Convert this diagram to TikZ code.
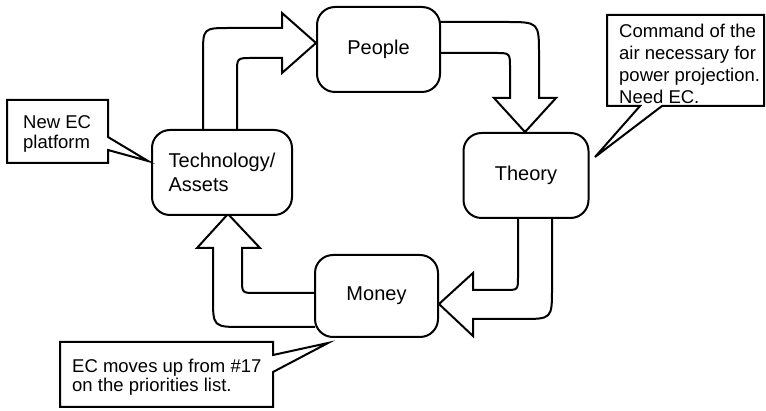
\documentclass[tikz,border=0pt]{standalone}
\usepackage{fontspec}
\setmainfont{Liberation Sans}
\begin{document}
\begin{tikzpicture}[x=1pt,y=-1pt,
  box/.style={draw,line width=2pt,fill=white,rounded corners=18pt,inner sep=0pt,
    font=\fontsize{20}{24}\selectfont,align=left},
  blockarrow/.style={draw,line width=2pt,fill=white,line join=miter},
  callout/.style={draw,line width=2pt,fill=white,line join=miter},
  calltext/.style={anchor=north west,inner sep=0pt,align=left}]
\useasboundingbox (0,0) rectangle (766,411);
% block arrows
\draw[blockarrow] (203,130) -- (203,55) .. controls (203,28) .. (230,28) -- (282,28) -- (282,13) -- (316,43) -- (282,73) -- (282,58) -- (252,58) .. controls (237,58) .. (237,73) -- (237,130);
\draw[blockarrow] (440,22) -- (505,22) .. controls (539,22) .. (539,55) -- (539,98) -- (556,98) -- (525,132) -- (494,98) -- (510,98) -- (510,68) .. controls (510,53) .. (495,53) -- (440,53);
\draw[blockarrow] (552,218) -- (552,288) .. controls (552,319) .. (521,319) -- (473,319) -- (473,336) -- (439,304) -- (473,273) -- (473,290) -- (505,290) .. controls (518,290) .. (518,277) -- (518,218);
\draw[blockarrow] (315,293) -- (256,293) .. controls (242,293) .. (242,279) -- (242,248) -- (260,248) -- (228,214) -- (197,248) -- (213,248) -- (213,297) .. controls (213,327) .. (243,327) -- (315,327);
% main boxes
\node[box,minimum width=123pt,minimum height=85pt] (people) at (378.5,49.5) {People};
\node[box,minimum width=140pt,minimum height=85pt] (tech) at (222,172.5) {Technology/\\Assets};
\node[box,minimum width=125pt,minimum height=85pt] (theory) at (526,175.5) {Theory};
\node[box,minimum width=123pt,minimum height=82pt] (money) at (376.5,296) {Money};
% callouts
\draw[callout] (7,100) -- (108,100) -- (108,137) -- (148,161) -- (108,150) -- (108,163) -- (7,163) -- cycle;
\node[calltext,font=\fontsize{18.5}{20}\selectfont] (newec) at (23,115) {New EC\\platform};
\draw[callout] (607,15) -- (764,15) -- (764,106) -- (662,106) -- (595,157) -- (640,106) -- (607,106) -- cycle;
\node[calltext,font=\fontsize{18.5}{22}\selectfont] (command) at (619,24) {Command of the\\air necessary for\\power projection.\\Need EC.};
\draw[callout] (60,342) -- (273,342) -- (273,355) -- (328,343) -- (273,372) -- (273,407) -- (60,407) -- cycle;
\node[calltext,font=\fontsize{18.5}{19}\selectfont] (ecmoves) at (72,359) {EC moves up from \#17\\on the priorities list.};
\end{tikzpicture}
\end{document}
